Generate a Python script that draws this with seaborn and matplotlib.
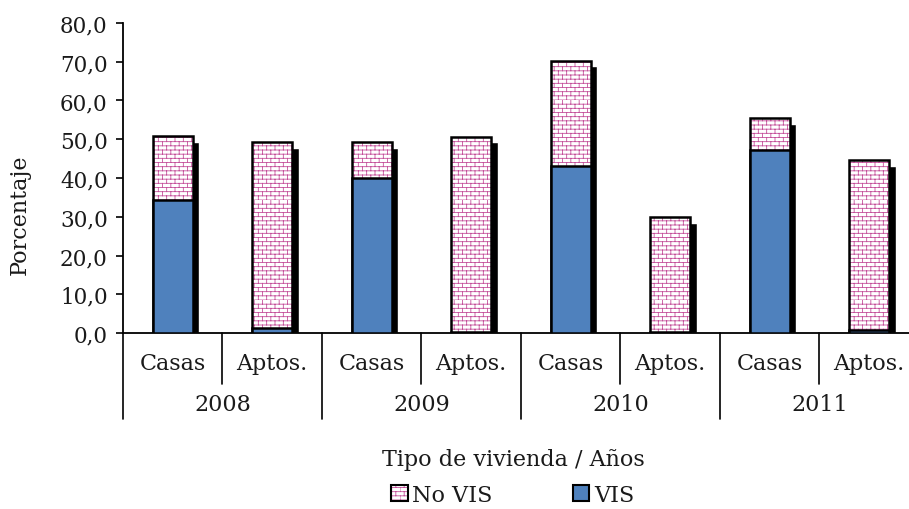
import numpy as np
import pandas as pd
import matplotlib
matplotlib.use("Agg")
import matplotlib.pyplot as plt
import seaborn as sns
from matplotlib.patches import Patch
from matplotlib.legend_handler import HandlerTuple
from matplotlib.ticker import FuncFormatter
from matplotlib import hatch as mhatch
from matplotlib.path import Path

years = ["2008", "2009", "2010", "2011"]
tipos = ["Casas", "Aptos."]
vis = [34.4, 1.3, 40.0, 0.2, 43.2, 0.2, 47.3, 0.9]
no_vis = [16.5, 47.9, 9.2, 50.5, 27.1, 29.8, 8.1, 43.8]
labels_cat = [f"{t}\n{y}" for y in years for t in tipos]

df = pd.DataFrame({
    "cat": labels_cat,
    "tipo": [t for y in years for t in tipos],
    "VIS": vis,
    "NoVIS": no_vis,
})
df["total"] = df["VIS"] + df["NoVIS"]


# ---- brick hatch pattern (like the spreadsheet "brick" fill) ----
class BrickHatch(mhatch.HatchPatternBase):
    ROWS = 24
    COLS = 12

    def __init__(self, hatch, density):
        self.active = "b" in hatch
        if self.active:
            self.num_vertices = self.ROWS * 2 + self.ROWS * self.COLS * 2
        else:
            self.num_vertices = 0

    def set_vertices_and_codes(self, vertices, codes):
        if not self.active:
            return
        R, C = self.ROWS, self.COLS
        k = 0
        for r in range(R):
            yv = r / R
            vertices[k] = (0.0, yv); codes[k] = Path.MOVETO; k += 1
            vertices[k] = (1.0, yv); codes[k] = Path.LINETO; k += 1
        for r in range(R):
            y0 = r / R
            y1 = (r + 1) / R
            off = 0.5 / C if r % 2 else 0.0
            for c in range(C):
                xv = c / C + off
                vertices[k] = (xv, y0); codes[k] = Path.MOVETO; k += 1
                vertices[k] = (xv, y1); codes[k] = Path.LINETO; k += 1


hatch_ok = True
try:
    mhatch._hatch_types.append(BrickHatch)
    mhatch._validate_hatch_pattern = lambda h: None
except Exception:
    hatch_ok = False
HATCH = "b" if hatch_ok else "++++"

sns.set_theme(style="white")
plt.rcParams["font.family"] = ["DejaVu Serif"]
plt.rcParams["hatch.linewidth"] = 0.6

fig = plt.figure(figsize=(9.09, 5.10), dpi=100)
ax = fig.add_axes([0.1353, 0.345, 0.8757, 0.608])

pink = "#C4509A"
blue = "#4F81BD"
W = 0.4
x = np.arange(len(df))
TXT = "#1a1a1a"
FS = 16

# shadow
ax.bar(x + 0.065, df["total"] - 1.5, width=W, color="black", zorder=1)

# total (No VIS on top) hatched
sns.barplot(data=df, x="cat", y="total", ax=ax, color="white", width=W,
            edgecolor=pink, linewidth=0, hatch=HATCH, zorder=2)
sns.barplot(data=df, x="cat", y="total", ax=ax, fill=False, width=W,
            edgecolor="black", linewidth=1.8, zorder=3)
# VIS
sns.barplot(data=df, x="cat", y="VIS", ax=ax, color=blue, saturation=1, width=W,
            edgecolor="black", linewidth=1.8, zorder=4)

ax.set_xlim(-0.5, 7.5)
ax.set_ylim(0, 80)
ax.set_yticks(np.arange(0, 81, 10))
ax.yaxis.set_major_formatter(FuncFormatter(lambda v, p: f"{v:.1f}".replace(".", ",")))
ax.tick_params(axis="y", left=True, length=5, width=1.2, color="black",
               labelsize=15.5, pad=6, labelcolor=TXT)
ax.set_xticks(x)
ax.set_xticklabels([])
ax.tick_params(axis="x", bottom=False, length=0)
for s in ["top", "right"]:
    ax.spines[s].set_visible(False)
for s in ["left", "bottom"]:
    ax.spines[s].set_color("black")
    ax.spines[s].set_linewidth(1.3)
ax.set_xlabel("")
ax.set_ylabel("")

trans = ax.get_xaxis_transform()
for i, t in enumerate(df["tipo"]):
    ax.text(i, -0.095, t, transform=trans, ha="center", va="center", fontsize=FS,
            color=TXT)
for j, y in enumerate(years):
    ax.text(2 * j + 0.5, -0.23, y, transform=trans, ha="center", va="center",
            fontsize=FS, color=TXT)
for b in np.arange(-0.5, 8.0, 1.0):
    bottom = -0.277 if (b + 0.5) % 2 == 0 else -0.165
    ax.plot([b, b], [0, bottom], transform=trans, color="black", lw=1.2, clip_on=False)

fig.text(0.565, 0.098, "Tipo de vivienda / Años", ha="center", va="center",
         fontsize=FS, color=TXT)
fig.text(0.022, 0.578, "Porcentaje", rotation=90, ha="center", va="center",
         fontsize=FS, color=TXT)

h_hatch = Patch(facecolor="white", edgecolor=pink, hatch=HATCH, linewidth=0)
h_edge = Patch(facecolor="none", edgecolor="black", linewidth=1.5)
h_vis = Patch(facecolor=blue, edgecolor="black", linewidth=1.5)
leg = fig.legend(handles=[(h_hatch, h_edge), h_vis], labels=["No VIS", "VIS"],
                 handler_map={tuple: HandlerTuple(ndivide=1, pad=0)},
                 loc="center", bbox_to_anchor=(0.564, 0.028), ncol=2,
                 frameon=False, fontsize=FS, handlelength=0.75, handleheight=0.75,
                 handletextpad=0.2, columnspacing=3.6, labelcolor=TXT)

fig.savefig("out.png", dpi=100)
